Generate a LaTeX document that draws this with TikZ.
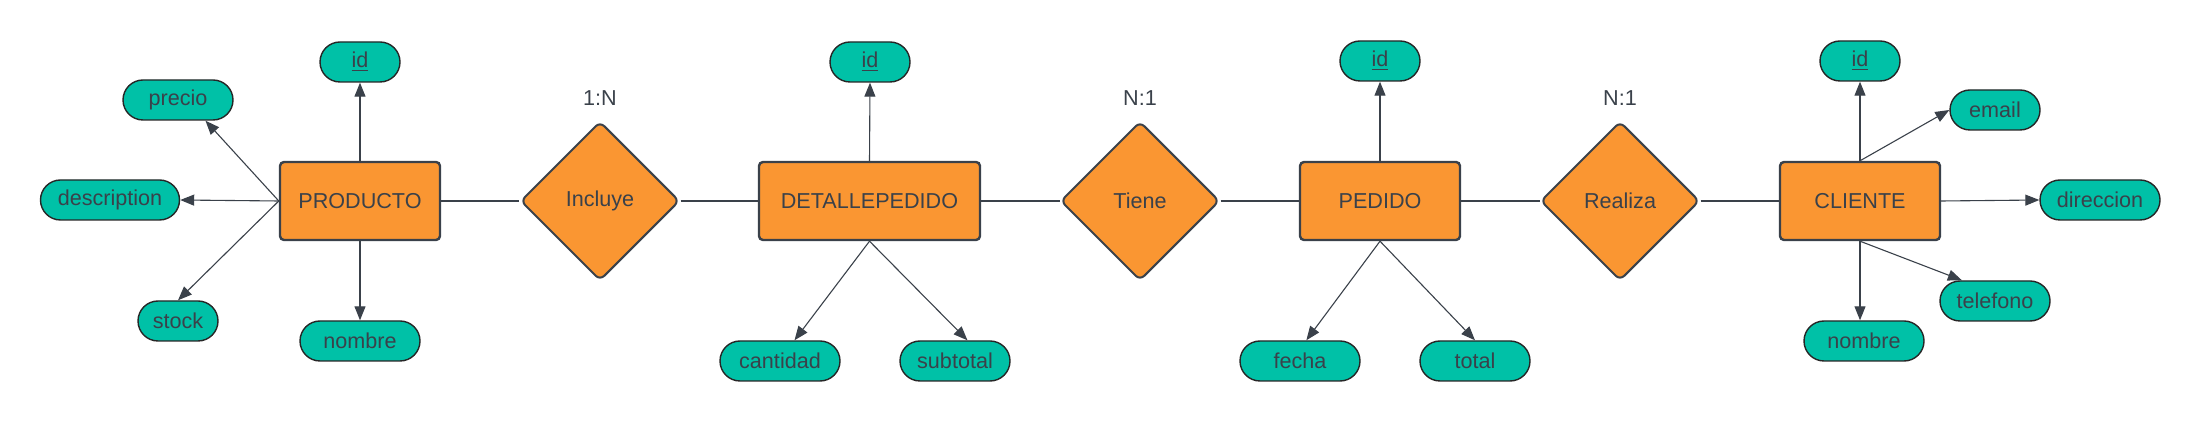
\documentclass[tikz,border=0pt]{standalone}
\usepackage{fontspec}
\setmainfont{Liberation Sans}
\usetikzlibrary{shapes.geometric,arrows.meta}
\definecolor{ink}{HTML}{3A414A}
\definecolor{entfill}{HTML}{FA9632}
\definecolor{attrfill}{HTML}{00C1A7}

\begin{document}
\begin{tikzpicture}[x=0.5pt,y=-0.5pt,
  every node/.style={font=\fontsize{10.8}{13}\selectfont,text=ink},
  entity/.style={draw=ink,line width=1.2pt,fill=entfill,rounded corners=2pt,minimum width=#1,minimum height=39pt,inner sep=0pt},
  entity/.default=80pt,
  rel/.style={diamond,draw=ink,line width=1pt,fill=entfill,rounded corners=3pt,minimum width=79.5pt,minimum height=79.5pt,inner sep=0pt},
  attr/.style={draw=black!85,line width=0.7pt,fill=attrfill,rounded corners=10pt,minimum width=#1,minimum height=20pt,inner sep=0pt},
  attr/.default=55pt,
  link/.style={draw=ink,line width=0.55pt},
  toattr/.style={link,-{Triangle[length=7pt,width=5.5pt]}}]
\useasboundingbox (0,0) rectangle (2200,421);
% entities and relations
\node[entity] (Prod) at (360,201) {PRODUCTO};
\node[rel] (Inc) at (600,201) {Incluye};
\node[entity=110.5pt] (Det) at (869.5,201) {DETALLEPEDIDO};
\node[rel] (Tiene) at (1140,201) {Tiene};
\node[entity] (Ped) at (1380,201) {PEDIDO};
\node[rel] (Real) at (1620,201) {Realiza};
\node[entity] (Cli) at (1860,201) {CLIENTE};
\node (IncCard) at (600,98) {1:N};
\node (TieneCard) at (1140,98) {N:1};
\node (RealCard) at (1620,98) {N:1};
\draw[link] (Prod) -- (Inc);
\draw[link] (Inc) -- (Det);
\draw[link] (Det) -- (Tiene);
\draw[link] (Tiene) -- (Ped);
\draw[link] (Ped) -- (Real);
\draw[link] (Real) -- (Cli);
% PRODUCTO
\node[attr=40pt] (ProdId) at (360,62) {\underline{id}};
\node[attr] (Precio) at (178,100) {precio};
\node[attr=69.5pt] (Descr) at (110,200) {description};
\node[attr=40pt] (Stock) at (178,321) {stock};
\node[attr=60pt] (ProdNom) at (360,341) {nombre};
\draw[toattr] (Prod.north) -- (ProdId.south);
\draw[toattr] (Prod.west) -- (Precio.-37);
\draw[toattr] (Prod.west) -- (Descr.east);
\draw[toattr] (Prod.west) -- (Stock.north);
\draw[toattr] (Prod.south) -- (ProdNom.north);
% DETALLEPEDIDO
\node[attr=40pt] (DetId) at (870,62) {\underline{id}};
\node[attr=60pt] (Cant) at (780,361) {cantidad};
\node[attr] (Subt) at (955,361) {subtotal};
\draw[toattr] (Det.north) -- (DetId.south);
\draw[toattr] (Det.south) -- (Cant.55);
\draw[toattr] (Det.south) -- (Subt.59);
% PEDIDO
\node[attr=40pt] (PedId) at (1380,61) {\underline{id}};
\node[attr=60pt] (Fecha) at (1300,361) {fecha};
\node[attr] (Total) at (1475,361) {total};
\draw[toattr] (Ped.north) -- (PedId.south);
\draw[toattr] (Ped.south) -- (Fecha.73);
\draw[toattr] (Ped.south) -- (Total.north);
% CLIENTE
\node[attr=40pt] (CliId) at (1860,61) {\underline{id}};
\node[attr=45pt] (Email) at (1995,110) {email};
\node[attr=60pt] (Dir) at (2100,200) {direccion};
\node[attr] (Tel) at (1995,301) {telefono};
\node[attr=60pt] (CliNom) at (1864,341) {nombre};
\draw[toattr] (Cli.north) -- (CliId.south);
\draw[toattr] (Cli.north) -- (Email.west);
\draw[toattr] (Cli.east) -- (Dir.west);
\draw[toattr] (Cli.south) -- (Tel.148);
\draw[toattr] (Cli.south) -- (Cli.south |- CliNom.north);
\end{tikzpicture}
\end{document}
